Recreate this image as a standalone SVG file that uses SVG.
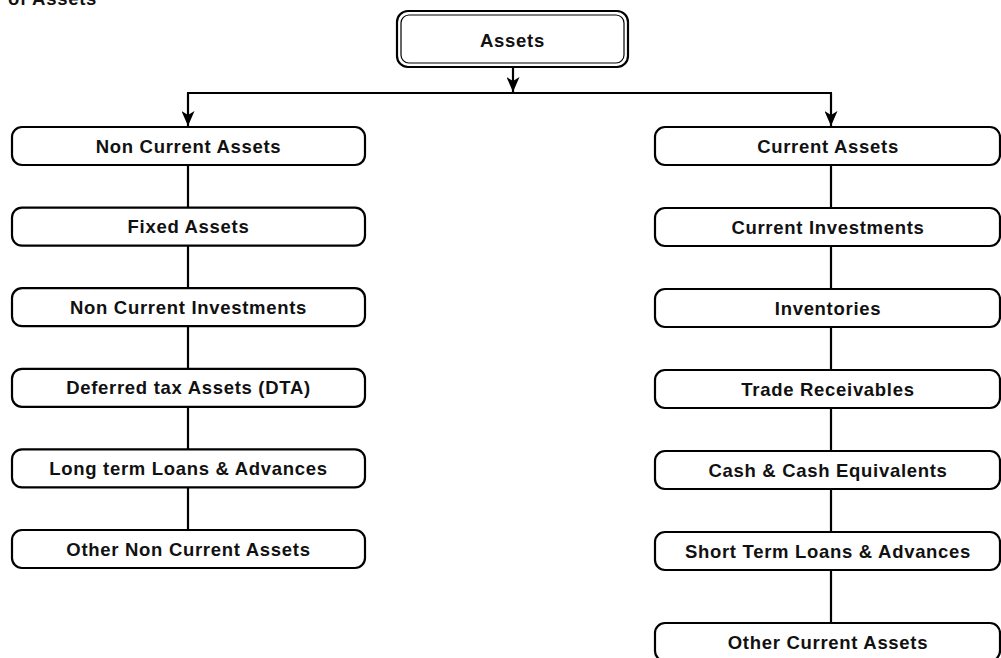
<svg xmlns="http://www.w3.org/2000/svg" width="1001" height="658" viewBox="0 0 1001 658">
<defs>
<style>
.box{fill:#fff;stroke:#000;stroke-width:2.2}
.t{font-family:"Liberation Sans",Arial,sans-serif;font-weight:bold;font-size:18.5px;fill:#111;text-anchor:middle;dominant-baseline:central;letter-spacing:0.7px}
.c{fill:none;stroke:#000;stroke-width:2.2}
</style>
<marker id="ah" viewBox="0 0 15 13" refX="15" refY="6.5" markerWidth="15" markerHeight="13" markerUnits="userSpaceOnUse" orient="auto">
<path d="M0,0 L15,6.5 L0,13 L4,6.5 Z" fill="#000"/>
</marker>
</defs>
<rect width="1001" height="658" fill="#fff"/>
<text x="97" y="5" class="t" style="text-anchor:end;dominant-baseline:auto">of Assets</text>
<g id="connectors">
<line x1="513" y1="67" x2="513" y2="92" class="c" marker-end="url(#ah)"/>
<line x1="187" y1="93" x2="832" y2="93" class="c"/>
<line x1="188" y1="93" x2="188" y2="126" class="c" marker-end="url(#ah)"/>
<line x1="831" y1="93" x2="831" y2="126" class="c" marker-end="url(#ah)"/>
<line x1="188" y1="165" x2="188" y2="530" class="c"/>
<line x1="831" y1="165" x2="831" y2="623" class="c"/>
</g>
<g id="assets">
<rect x="397" y="11" width="231" height="56" rx="11" class="box" stroke-width="2.6"/>
<rect x="401" y="15" width="223" height="48" rx="8" fill="none" stroke="#000" stroke-width="1.2"/>
<text x="512.5" y="40" class="t">Assets</text>
</g>
<g id="non-current-assets"><rect x="12" y="127" width="353" height="38" rx="10" class="box"/><text x="188.5" y="146" class="t">Non Current Assets</text></g>
<g id="fixed-assets"><rect x="12" y="207.6" width="353" height="38" rx="10" class="box"/><text x="188.5" y="226.6" class="t">Fixed Assets</text></g>
<g id="non-current-investments"><rect x="12" y="288.2" width="353" height="38" rx="10" class="box"/><text x="188.5" y="307.2" class="t">Non Current Investments</text></g>
<g id="dta"><rect x="12" y="368.8" width="353" height="38" rx="10" class="box"/><text x="188.5" y="387.8" class="t">Deferred tax Assets (DTA)</text></g>
<g id="long-term-loans"><rect x="12" y="449.4" width="353" height="38" rx="10" class="box"/><text x="188.5" y="468.4" class="t">Long term Loans &amp; Advances</text></g>
<g id="other-non-current"><rect x="12" y="530" width="353" height="38" rx="10" class="box"/><text x="188.5" y="549" class="t">Other Non Current Assets</text></g>
<g id="current-assets"><rect x="655" y="127" width="345" height="38" rx="10" class="box"/><text x="828" y="146" class="t">Current Assets</text></g>
<g id="current-investments"><rect x="655" y="208" width="345" height="38" rx="10" class="box"/><text x="828" y="227" class="t">Current Investments</text></g>
<g id="inventories"><rect x="655" y="289" width="345" height="38" rx="10" class="box"/><text x="828" y="308" class="t">Inventories</text></g>
<g id="trade-receivables"><rect x="655" y="370" width="345" height="38" rx="10" class="box"/><text x="828" y="389" class="t">Trade Receivables</text></g>
<g id="cash"><rect x="655" y="451" width="345" height="38" rx="10" class="box"/><text x="828" y="470" class="t">Cash &amp; Cash Equivalents</text></g>
<g id="short-term-loans"><rect x="655" y="532" width="345" height="38" rx="10" class="box"/><text x="828" y="551" class="t">Short Term Loans &amp; Advances</text></g>
<g id="other-current"><rect x="655" y="623" width="345" height="38" rx="10" class="box"/><text x="828" y="642" class="t">Other Current Assets</text></g>
</svg>
